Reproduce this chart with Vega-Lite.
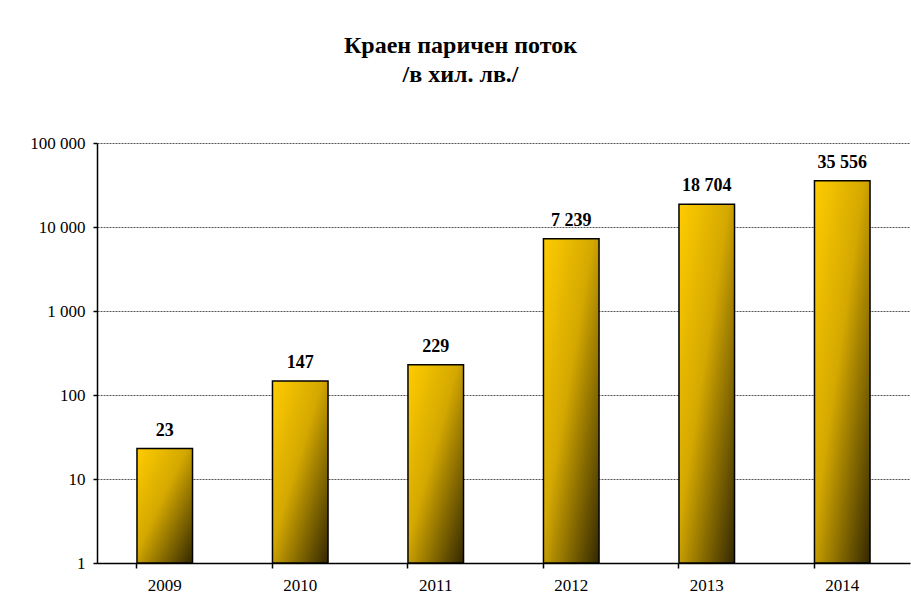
{
  "$schema": "https://vega.github.io/schema/vega-lite/v6.json",
  "width": 813,
  "height": 420,
  "autosize": "none",
  "padding": {"left": 97, "top": 143, "right": 1, "bottom": 49},
  "background": "white",
  "title": {
    "text": ["Краен паричен поток", "/в хил. лв./"],
    "font": "Liberation Serif",
    "fontSize": 24,
    "fontWeight": "bold",
    "color": "black",
    "anchor": "middle",
    "dx": -43,
    "offset": 47,
    "lineHeight": 29
  },
  "data": {
    "values": [
      {"year": "2009", "value": 23},
      {"year": "2010", "value": 147},
      {"year": "2011", "value": 229},
      {"year": "2012", "value": 7239},
      {"year": "2013", "value": 18704},
      {"year": "2014", "value": 35556}
    ]
  },
  "encoding": {
    "x": {
      "field": "year",
      "type": "nominal",
      "sort": null,
      "scale": {"paddingInner": 0.59, "paddingOuter": 0.295},
      "axis": {
        "title": null,
        "labelAngle": 0,
        "labelFont": "Liberation Serif",
        "labelFontSize": 17,
        "labelColor": "black",
        "labelPadding": 9,
        "domainColor": "black",
        "domainWidth": 1.5,
        "tickColor": "black",
        "tickSize": 5,
        "tickWidth": 1.5,
        "bandPosition": 0
      }
    },
    "y": {
      "field": "value",
      "type": "quantitative",
      "stack": null,
      "scale": {"type": "log", "domain": [1, 100000], "nice": false},
      "axis": {
        "title": null,
        "values": [1, 10, 100, 1000, 10000, 100000],
        "format": ",d",
        "labelFont": "Liberation Serif",
        "labelFontSize": 17,
        "labelColor": "black",
        "labelPadding": 8,
        "domainColor": "black",
        "domainWidth": 1.5,
        "tickColor": "black",
        "tickSize": 4,
        "tickWidth": 1.5,
        "grid": true,
        "gridColor": "#555555",
        "gridDash": [2, 1],
        "gridWidth": 1
      }
    }
  },
  "layer": [
    {
      "mark": {
        "type": "bar",
        "stroke": "black",
        "strokeWidth": 1.5,
        "color": {
          "gradient": "linear",
          "x1": 0, "y1": 0, "x2": 1, "y2": 1,
          "stops": [
            {"offset": 0, "color": "#FFCC00"},
            {"offset": 0.45, "color": "#D4A800"},
            {"offset": 1, "color": "#332800"}
          ]
        }
      },
      "encoding": {
        "y2": {"datum": 1}
      }
    },
    {
      "mark": {
        "type": "text",
        "baseline": "bottom",
        "dy": -9,
        "font": "Liberation Serif",
        "fontSize": 18,
        "fontWeight": "bold",
        "color": "black"
      },
      "encoding": {
        "text": {"field": "value", "type": "quantitative", "format": ",d"}
      }
    }
  ],
  "config": {
    "view": {"stroke": null},
    "locale": {
      "number": {"decimal": ",", "thousands": " ", "grouping": [3], "currency": ["", ""]}
    }
  }
}
